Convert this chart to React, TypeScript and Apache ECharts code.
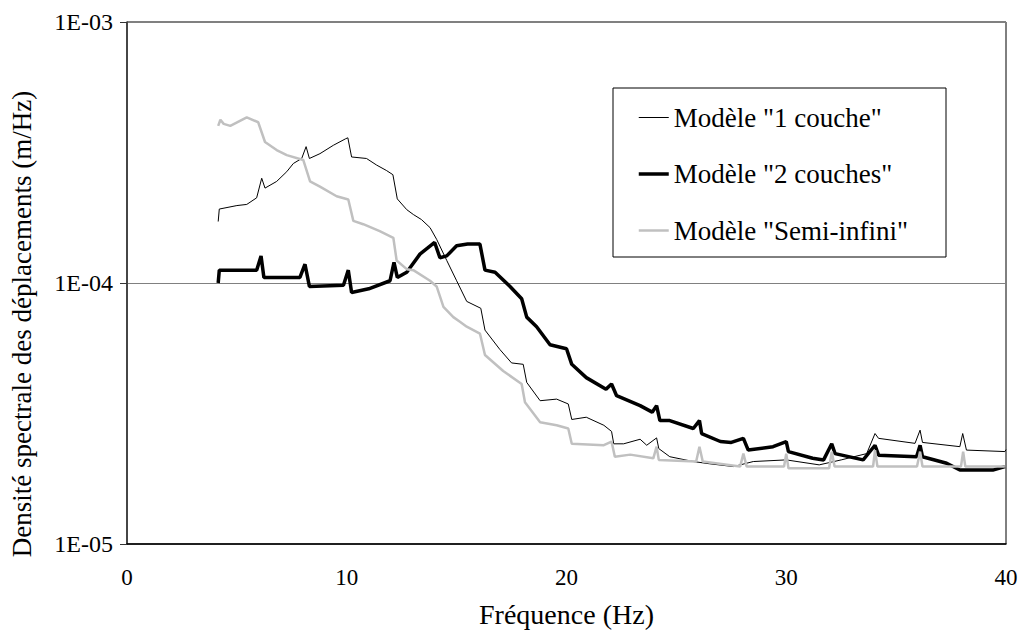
import React, { useEffect, useRef } from "react";
import * as echarts from "echarts";

const seriesNames = ['Modèle "1 couche"', 'Modèle "2 couches"', 'Modèle "Semi-infini"'];
const seriesWidths = [1, 3.5, 2.5];
const seriesColors = ["#000000", "#000000", "#c0c0c0"];
const xTicks = [0, 10, 20, 30, 40];

const oneLayer: [number, number][] = [
  [4.15, 1.72e-4], [4.2, 1.92e-4], [5.0, 1.98e-4], [5.45, 2.0e-4], [5.9, 2.12e-4], [6.13, 2.52e-4],
  [6.28, 2.31e-4], [6.81, 2.45e-4], [7.27, 2.67e-4], [7.57, 2.87e-4], [7.95, 3.0e-4], [8.15, 3.33e-4],
  [8.3, 3.0e-4], [8.78, 3.13e-4], [9.39, 3.37e-4], [9.95, 3.57e-4], [10.05, 3.6e-4], [10.22, 3.04e-4],
  [10.9, 3.0e-4], [11.36, 2.83e-4], [11.8, 2.7e-4], [12.1, 2.6e-4], [12.3, 2.1e-4], [12.73, 1.91e-4],
  [13.03, 1.83e-4], [13.4, 1.75e-4], [13.79, 1.63e-4], [14.09, 1.47e-4], [14.55, 1.22e-4], [15.0, 1.02e-4],
  [15.46, 8.5e-5], [16.1, 8.0e-5], [16.29, 6.6e-5], [16.97, 5.56e-5], [17.5, 4.94e-5], [18.03, 4.88e-5],
  [18.19, 4.16e-5], [18.8, 3.54e-5], [19.55, 3.59e-5], [20.08, 3.44e-5], [20.24, 3.0e-5], [20.9, 3.06e-5],
  [21.7, 2.85e-5], [22.05, 2.7e-5], [22.15, 2.42e-5], [22.6, 2.42e-5], [23.35, 2.52e-5], [23.65, 2.39e-5],
  [24.1, 2.55e-5], [24.2, 2.32e-5], [24.7, 2.16e-5], [25.77, 2.07e-5], [26.5, 2.03e-5], [27.6, 1.98e-5],
  [28.5, 2.07e-5], [30.0, 2.1e-5], [31.5, 2.01e-5], [32.5, 2.1e-5], [33.66, 2.22e-5], [34.04, 2.65e-5],
  [34.2, 2.54e-5], [35.86, 2.43e-5], [36.09, 2.73e-5], [36.2, 2.45e-5], [37.9, 2.36e-5], [38.03, 2.65e-5],
  [38.2, 2.29e-5], [39.95, 2.26e-5], [40.0, 2.3e-5],
];

const twoLayers: [number, number][] = [
  [4.15, 1.0e-4], [4.2, 1.12e-4], [5.9, 1.12e-4], [6.1, 1.27e-4], [6.23, 1.05e-4], [7.87, 1.05e-4],
  [8.1, 1.18e-4], [8.3, 9.7e-5], [9.85, 9.8e-5], [10.07, 1.12e-4], [10.22, 9.2e-5], [11.0, 9.5e-5],
  [11.97, 1.02e-4], [12.15, 1.2e-4], [12.3, 1.05e-4], [12.73, 1.1e-4], [13.33, 1.29e-4], [14.0, 1.43e-4],
  [14.24, 1.25e-4], [14.55, 1.27e-4], [15.0, 1.39e-4], [15.5, 1.41e-4], [16.06, 1.41e-4], [16.29, 1.12e-4],
  [16.75, 1.1e-4], [17.43, 9.7e-5], [17.96, 8.7e-5], [18.19, 7.4e-5], [18.64, 6.8e-5], [19.25, 5.8e-5],
  [20.0, 5.6e-5], [20.24, 4.88e-5], [20.9, 4.34e-5], [21.8, 3.92e-5], [22.05, 4.1e-5], [22.28, 3.7e-5],
  [23.35, 3.39e-5], [23.9, 3.2e-5], [24.1, 3.39e-5], [24.25, 2.97e-5], [24.7, 2.97e-5], [25.77, 2.77e-5],
  [26.05, 2.97e-5], [26.15, 2.65e-5], [27.0, 2.47e-5], [27.5, 2.45e-5], [28.05, 2.54e-5], [28.27, 2.29e-5],
  [29.4, 2.36e-5], [30.0, 2.47e-5], [30.1, 2.26e-5], [31.2, 2.13e-5], [31.7, 2.1e-5], [32.07, 2.42e-5],
  [32.22, 2.22e-5], [33.5, 2.1e-5], [34.04, 2.39e-5], [34.2, 2.19e-5], [35.93, 2.16e-5], [36.09, 2.39e-5],
  [36.2, 2.16e-5], [37.3, 2.04e-5], [37.9, 1.92e-5], [39.4, 1.92e-5], [39.95, 1.98e-5],
];

const semiInfinite: [number, number][] = [
  [4.15, 4.0e-4], [4.25, 4.22e-4], [4.4, 4.07e-4], [4.7, 4.0e-4], [5.45, 4.31e-4], [5.97, 4.13e-4],
  [6.28, 3.47e-4], [6.81, 3.23e-4], [7.27, 3.09e-4], [8.02, 2.96e-4], [8.33, 2.45e-4], [8.78, 2.34e-4],
  [9.54, 2.15e-4], [10.07, 2.09e-4], [10.3, 1.73e-4], [10.75, 1.68e-4], [11.5, 1.58e-4], [12.12, 1.49e-4],
  [12.27, 1.22e-4], [12.73, 1.13e-4], [13.03, 1.12e-4], [13.79, 1.02e-4], [14.09, 9.7e-5], [14.4, 8.1e-5],
  [14.85, 7.4e-5], [15.15, 7.1e-5], [15.46, 6.8e-5], [16.06, 6.4e-5], [16.29, 5.3e-5], [17.12, 4.6e-5],
  [17.96, 4.1e-5], [18.11, 3.49e-5], [18.8, 2.93e-5], [19.55, 2.85e-5], [20.08, 2.77e-5], [20.24, 2.42e-5],
  [21.7, 2.39e-5], [22.05, 2.47e-5], [22.2, 2.16e-5], [22.9, 2.2e-5], [23.95, 2.13e-5], [24.1, 2.36e-5],
  [24.2, 2.1e-5], [25.9, 2.07e-5], [26.05, 2.36e-5], [26.2, 2.07e-5], [27.9, 1.98e-5], [28.05, 2.22e-5],
  [28.2, 1.98e-5], [29.9, 1.98e-5], [30.0, 2.22e-5], [30.1, 1.95e-5], [31.95, 1.95e-5], [32.07, 2.26e-5],
  [32.2, 1.98e-5], [33.95, 1.98e-5], [34.04, 2.29e-5], [34.15, 1.98e-5], [35.95, 1.98e-5], [36.09, 2.26e-5],
  [36.2, 1.98e-5], [37.95, 1.98e-5], [38.05, 2.26e-5], [38.15, 1.98e-5], [39.95, 1.98e-5],
];

const seriesData = [oneLayer, twoLayers, semiInfinite];

const FONT = "serif";

export default function App() {
  const ref = useRef<HTMLDivElement>(null);
  useEffect(() => {
    if (!ref.current) return;
    const chart = echarts.init(ref.current, undefined, { renderer: "svg" });
    chart.setOption({
      animation: false,
      textStyle: { fontFamily: FONT },
      grid: { left: 127, right: 15, top: 22, bottom: 83, show: true, borderColor: "#000", borderWidth: 1 },
      legend: {
        orient: "vertical",
        left: 613,
        top: 88,
        padding: [16, 38, 13, 24],
        itemGap: 29.5,
        itemWidth: 30,
        itemHeight: 27,
        borderColor: "#000",
        borderWidth: 1,
        backgroundColor: "#fff",
        itemStyle: { opacity: 0 },
        textStyle: { fontFamily: FONT, fontSize: 27, color: "#000" },
        data: seriesNames.map((n, i) => ({
          name: n,
          lineStyle: { width: seriesWidths[i], color: seriesColors[i] },
        })),
      },
      xAxis: {
        type: "value",
        min: xTicks[0],
        max: xTicks[xTicks.length - 1],
        interval: 10,
        axisLine: { show: true, lineStyle: { color: "#000", width: 1.5 } },
        axisTick: { show: false },
        splitLine: { show: false },
        axisLabel: { fontFamily: FONT, fontSize: 23, color: "#000", margin: 22 },
        name: "Fréquence (Hz)",
        nameLocation: "middle",
        nameGap: 56,
        nameTextStyle: { fontFamily: FONT, fontSize: 28, color: "#000" },
      },
      yAxis: {
        type: "log",
        logBase: 10,
        min: 1e-5,
        max: 1e-3,
        axisLine: { show: true, lineStyle: { color: "#333", width: 1.5 } },
        axisTick: { show: true, inside: false, length: 7, lineStyle: { color: "#333" } },
        minorTick: { show: false },
        splitLine: { show: true, lineStyle: { color: "#808080", width: 1.2 } },
        axisLabel: {
          fontFamily: FONT,
          fontSize: 24,
          color: "#000",
          margin: 14,
          formatter: (v: number) => {
            const e = Math.round(Math.log10(v));
            const s = String(Math.abs(e)).padStart(2, "0");
            return "1E" + (e < 0 ? "-" : "+") + s;
          },
        },
      },
      graphic: [
        {
          type: "text",
          x: 22,
          y: 324,
          rotation: Math.PI / 2,
          style: {
            text: "Densité spectrale des déplacements (m/Hz)",
            fontFamily: FONT,
            fontSize: 27,
            fill: "#000",
            align: "center",
            verticalAlign: "middle",
          },
        },
      ],
      series: seriesNames.map((n, i) => ({
        name: n,
        type: "line",
        data: seriesData[i],
        showSymbol: false,
        symbol: "none",
        smooth: false,
        lineStyle: { color: seriesColors[i], width: seriesWidths[i] },
        itemStyle: { color: seriesColors[i] },
        z: 3,
      })),
    });
    return () => chart.dispose();
  }, []);
  return (
    <div
      ref={ref}
      style={{ position: "fixed", left: 0, top: 0, width: 1021, height: 633, background: "#fff" }}
    />
  );
}
